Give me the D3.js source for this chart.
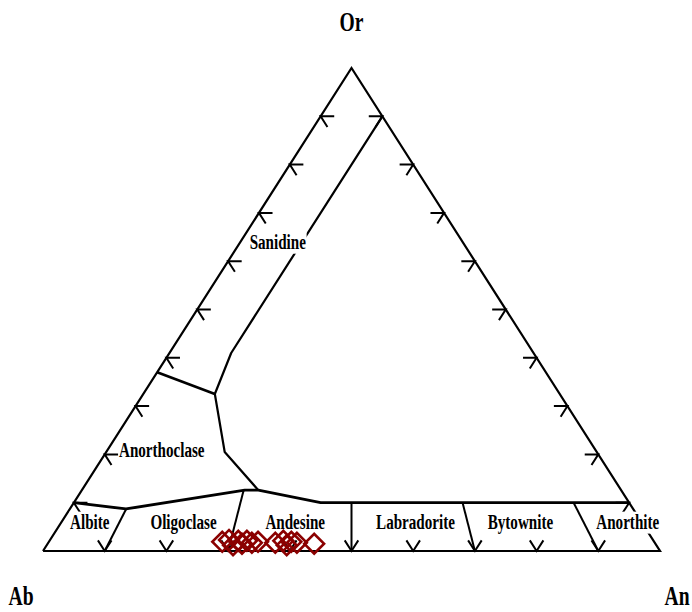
<!DOCTYPE html>
<html>
<head>
<meta charset="utf-8">
<script src="https://cdn.jsdelivr.net/npm/d3@7"></script>
<style>
  body { margin: 0; background: #fff; }
  text { font-family: "Liberation Serif", "Times New Roman", serif; font-weight: bold; fill: #000; }
</style>
</head>
<body>
<svg id="chart" width="692" height="612"></svg>
<script>
// Feldspar classification diagram, Ab – An – Or (mol %).
// Compositions are given as [An, Or]; Ab = 100 - An - Or.

const vertexNames = ["Or", "Ab", "An"];
const tickValues = [10, 20, 30, 40, 50, 60, 70, 80, 90];

// Field boundaries
const sanidineBoundary     = [[10, 90], [10, 41], [11.6, 32.5], [19.2, 20.5], [28.6, 12.6]];
const anorthoclaseBoundary = [[0, 37], [11.6, 32.5]];
const plagioclaseBoundary  = [[0, 10], [9.1, 8.7], [26.4, 12.6], [28.6, 12.6], [40, 10], [90, 10]];

// Plagioclase divisions: An at the Ab–An join, Or where the division meets the boundary
const divisionAn  = [10, 30, 50, 70, 90];
const divisionTop = [8.7, 12.6, 10, 10, 10];

// Field names
const fieldNames = ["Sanidine", "Anorthoclase", "Albite", "Oligoclase", "Andesine", "Labradorite", "Bytownite", "Anorthite"];

// Analysed feldspars
const sampleAn = [28.1, 29.0, 30.2, 30.6, 31.5, 32.0, 33.0, 33.9, 36.8, 37.9, 38.9, 39.3, 40.3, 43.2];
const sampleOr = [1.9, 2.3, 1.2, 2.1, 1.5, 2.1, 1.7, 1.9, 1.7, 2.1, 1.2, 1.9, 1.7, 1.5];

// ---- layout ----
const svg = d3.select("#chart");
const xs = d3.scaleLinear().domain([0, 100]).range([43, 660]);
const ys = d3.scaleLinear().domain([0, 100]).range([551, 68]);
const project = ([an, or]) => [xs(an + or / 2), ys(or)];
const line = d3.line().x(d => project(d)[0]).y(d => project(d)[1]);

const ink = "#000";

// Triangle
svg.append("path")
  .attr("d", line([[0, 0], [100, 0], [0, 100], [0, 0]]))
  .attr("fill", "none").attr("stroke", ink).attr("stroke-width", 2.2)
  .attr("stroke-linejoin", "miter");

// Ticks: each tick is a pair of short strokes along the two grid directions
const d = 2.2;
const tickG = svg.append("g").attr("stroke", ink).attr("stroke-width", 2).attr("fill", "none");
tickValues.forEach(v => {
  // Ab–Or join (Or = v)
  tickG.append("path").attr("d", line([[d, v], [0, v], [d, v - d]]));
  // An–Or join (Or = v)
  tickG.append("path").attr("d", line([[100 - v - d, v], [100 - v, v], [100 - v, v - d]]));
  // Ab–An join (An = v)
  tickG.append("path").attr("d", line([[v - d, d], [v, 0], [v, d]]));
});

// Boundaries
const bG = svg.append("g").attr("fill", "none").attr("stroke", ink).attr("stroke-linejoin", "round");
bG.append("path").attr("d", line(sanidineBoundary)).attr("stroke-width", 2.2);
bG.append("path").attr("d", line(anorthoclaseBoundary)).attr("stroke-width", 2.6);
bG.append("path").attr("d", line(plagioclaseBoundary)).attr("stroke-width", 2.8);
divisionAn.forEach((an, i) => {
  const t = divisionTop[i];
  bG.append("path").attr("d", line([[an * (1 - t / 100), t], [an, 0]])).attr("stroke-width", 2);
});

// Field labels (with a white backing)
const fieldAnchor = [[6.8, 62.5], [9.5, 19.5], [5.3, 4.55], [20.5, 4.55], [38.6, 4.55], [58.1, 4.55], [75.1, 4.55], [92.5, 4.55]];
const labelG = svg.append("g");
fieldNames.forEach((name, i) => {
  const [x, y] = project(fieldAnchor[i]);
  const g = labelG.append("g").attr("transform", `translate(${x},${y}) scale(0.72,1)`);
  const bg = g.append("rect").attr("fill", "#fff");
  const t = g.append("text").attr("text-anchor", "middle").attr("font-size", 21).text(name);
  const b = t.node().getBBox();
  bg.attr("x", b.x - 1).attr("y", b.y + 1).attr("width", b.width + 2).attr("height", b.height - 1);
});

// Vertex labels
const vertexPos = [[0, 100], [0, 0], [100, 0]];
const vertexOffset = [[0, -37], [-22, 54], [17, 54]];
vertexNames.forEach((name, i) => {
  const [x, y] = project(vertexPos[i]);
  svg.append("text")
    .attr("transform", `translate(${x + vertexOffset[i][0]},${y + vertexOffset[i][1]}) scale(0.7,1)`)
    .attr("text-anchor", "middle").attr("font-size", 28).text(name);
});

// Samples
const sym = d3.symbol().type(d3.symbolSquare).size(196);
svg.append("g").selectAll("path")
  .data(sampleAn.map((an, i) => [an, sampleOr[i]]))
  .join("path")
  .attr("d", sym)
  .attr("transform", p => { const [x, y] = project(p); return `translate(${x},${y}) rotate(45)`; })
  .attr("fill", "none").attr("stroke", "#8b0000").attr("stroke-width", 2.6);
</script>
</body>
</html>
